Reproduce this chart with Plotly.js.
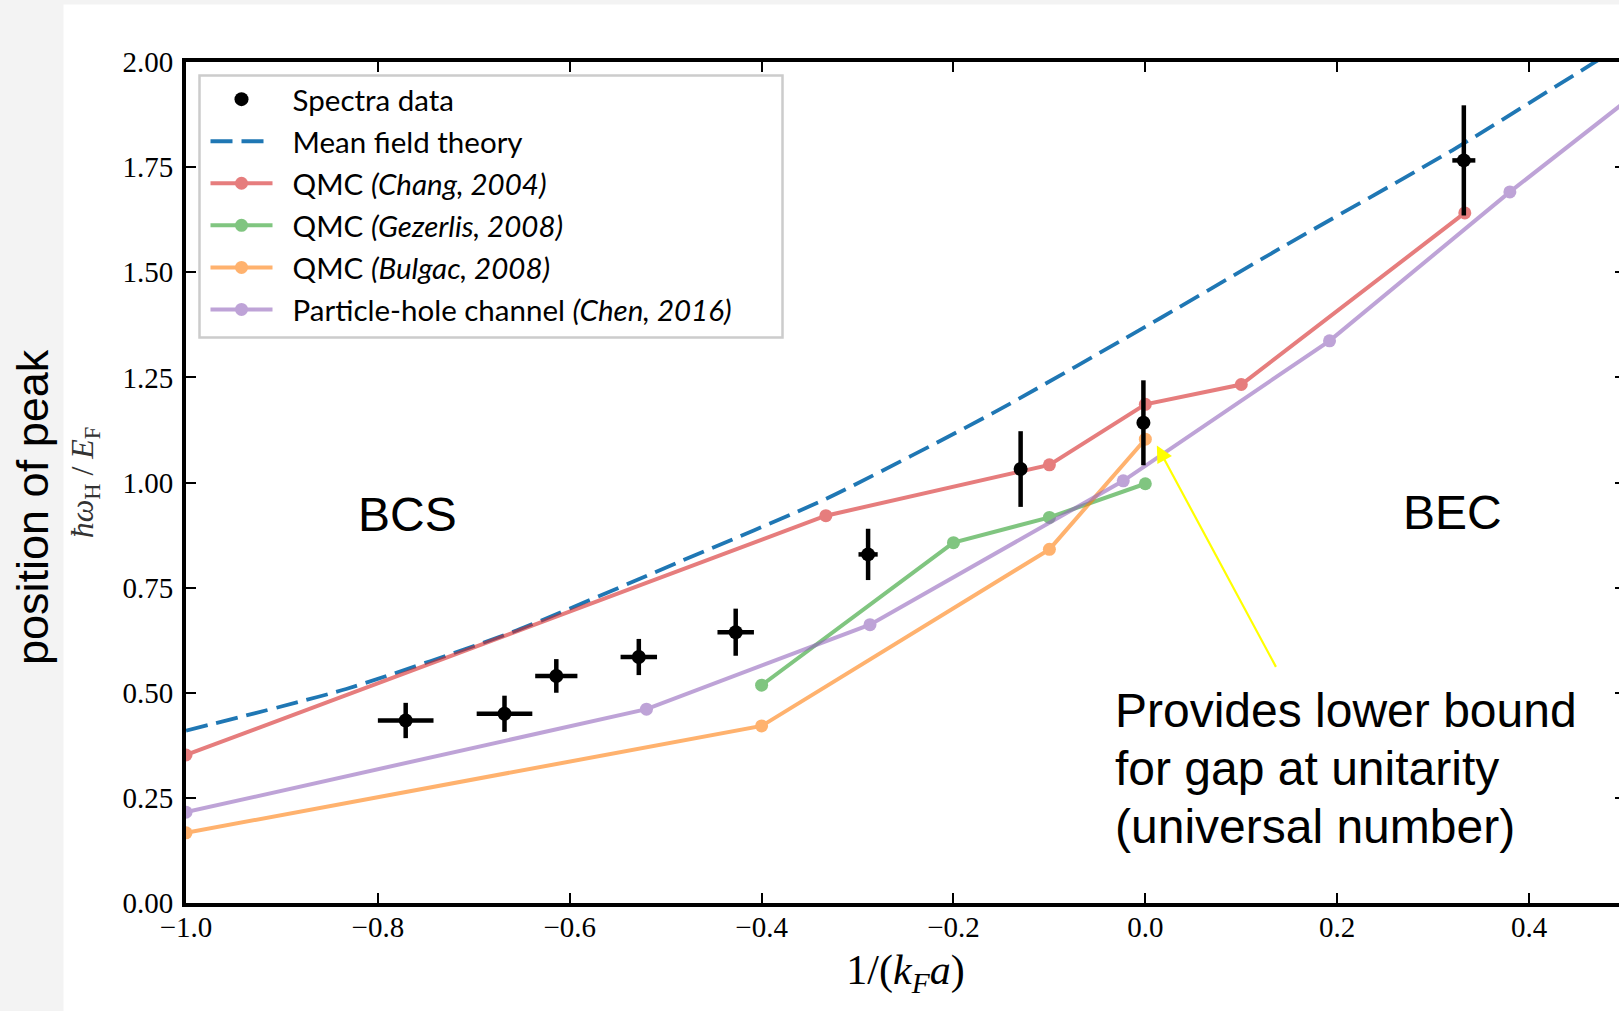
<!DOCTYPE html>
<html>
<head>
<meta charset="utf-8">
<script src="https://cdn.plot.ly/plotly-3.0.1.min.js"></script>
<style>
  html, body { margin: 0; padding: 0; background: #f3f3f3; }
  #wrap { width: 1619px; height: 1011px; overflow: hidden; position: relative; }
  #plot { width: 1640px; height: 1011px; }
</style>
</head>
<body>
<div id="wrap"><div id="plot"></div></div>
<script>
// ---------------- data ----------------
const spectraX    = [-0.771, -0.668, -0.614, -0.528, -0.427, -0.289, -0.130, -0.002, 0.332];
const spectraY    = [0.434, 0.450, 0.540, 0.585, 0.644, 0.829, 1.032, 1.142, 1.766];
const spectraXErr = [0.029, 0.029, 0.022, 0.019, 0.019, 0.010, 0.0, 0.0, 0.012];
const spectraYErr = [0.042, 0.043, 0.040, 0.043, 0.056, 0.061, 0.090, 0.101, 0.131];

const meanFieldX = [-1.0, -0.833, -0.659, -0.485, -0.332, -0.159, 0.015, 0.146, 0.320, 0.466, 0.5];
const meanFieldY = [0.410, 0.509, 0.645, 0.812, 0.962, 1.165, 1.390, 1.564, 1.790, 1.996, 2.044];

const changX = [-1.0, -0.333, -0.1, 0.0, 0.1, 0.333];
const changY = [0.352, 0.921, 1.042, 1.186, 1.233, 1.641];

const gezerlisX = [-0.4, -0.2, -0.1, 0.0];
const gezerlisY = [0.518, 0.857, 0.917, 0.997];

const bulgacX = [-1.0, -0.4, -0.1, 0.0];
const bulgacY = [0.167, 0.421, 0.841, 1.103];

const chenX = [-1.0, -0.52, -0.287, -0.023, 0.192, 0.380, 0.57];
const chenY = [0.216, 0.461, 0.662, 1.004, 1.337, 1.691, 2.03];

const xTickVals = [-1.0, -0.8, -0.6, -0.4, -0.2, 0.0, 0.2, 0.4];
const yTickVals = [0.0, 0.25, 0.5, 0.75, 1.0, 1.25, 1.5, 1.75, 2.0];

const seriesNames = [
  'Spectra data',
  'Mean field theory',
  'QMC <i>(Chang, 2004)</i>',
  'QMC <i>(Gezerlis, 2008)</i>',
  'QMC <i>(Bulgac, 2008)</i>',
  'Particle-hole channel <i>(Chen, 2016)</i>'
];

const noteLines = ['Provides lower bound', 'for gap at unitarity', '(universal number)'];

// ---------------- layout geometry ----------------
const W = 1640, H = 1011;
const M = { l: 186, r: 15, t: 62, b: 108 };
const PW = W - M.l - M.r, PH = H - M.t - M.b;
const px2x = px => (px - M.l) / PW;
const py2y = py => (H - M.b - py) / PH;

const serif = 'Liberation Serif, Times New Roman, serif';
const sans = 'Liberation Sans, Arial, sans-serif';
const legendFont = 'Lato, Open Sans, sans-serif';
const pad = '\u00a0\u00a0';   // small gap between legend swatch and label

function qmcTrace(x, y, name, color, rank) {
  return {
    x: x, y: y, name: pad + name, type: 'scatter', mode: 'lines+markers',
    line: { color: color, width: 4 },
    marker: { color: color, size: 13 },
    opacity: 0.6, legendrank: rank, legendgroup: 'g' + rank
  };
}

const traces = [
  {
    x: meanFieldX, y: meanFieldY, name: pad + seriesNames[1], type: 'scatter', mode: 'lines',
    line: { color: '#1f77b4', width: 3.8, dash: '22px,9px', shape: 'spline', smoothing: 0.6 },
    legendrank: 2, legendgroup: 'g2'
  },
  qmcTrace(changX, changY, seriesNames[2], '#d62728', 3),
  qmcTrace(gezerlisX, gezerlisY, seriesNames[3], '#2ca02c', 4),
  qmcTrace(bulgacX, bulgacY, seriesNames[4], '#ff7f0e', 5),
  qmcTrace(chenX, chenY, seriesNames[5], '#9467bd', 6),
  {
    x: spectraX, y: spectraY, name: pad + seriesNames[0], type: 'scatter', mode: 'markers',
    marker: { color: 'black', size: 14 },
    error_y: { type: 'data', array: spectraYErr, color: 'black', thickness: 4.5, width: 0 },
    error_x: { type: 'data', array: spectraXErr, color: 'black', thickness: 4.5, width: 0 },
    legendrank: 1, legendgroup: 'g1'
  }
];

const axisCommon = {
  showgrid: false, zeroline: false,
  showline: true, linecolor: 'black', linewidth: 4,
  ticks: 'inside', ticklen: 10, tickwidth: 2, tickcolor: 'black',
  mirror: 'ticks',
  tickfont: { family: serif, size: 29, color: 'black' }
};

const noteY = [710.5, 768, 826];

const layout = {
  width: W, height: H,
  margin: M,
  paper_bgcolor: 'white',
  plot_bgcolor: 'white',
  showlegend: true,
  xaxis: Object.assign({}, axisCommon, {
    range: [-1.0, 0.5],
    tickvals: xTickVals, tickformat: '.1f',
    ticklabelstandoff: -5,
    title: {
      text: '1/(<i>k</i><sub><i>F</i></sub><i>a</i>)',
      font: { family: serif, size: 42, color: 'black' },
      standoff: 14
    }
  }),
  yaxis: Object.assign({}, axisCommon, {
    range: [0, 2.0],
    tickvals: yTickVals, tickformat: '.2f',
    ticklabelstandoff: 3,
    title: {
      text: '<i>ħω</i><sub>H</sub> / <i>E</i><sub>F</sub>',
      font: { family: serif, size: 32, color: '#333333' },
      standoff: 20
    }
  }),
  legend: {
    x: px2x(205.5), y: py2y(73.5), xanchor: 'left', yanchor: 'top',
    bgcolor: 'rgba(0,0,0,0)', borderwidth: 0,
    font: { family: legendFont, size: 29.5, color: 'black' },
    tracegroupgap: 0.7, itemwidth: 62
  },
  shapes: [
    // light grey slide margins (left strip and top strip)
    { type: 'rect', xref: 'paper', yref: 'paper', layer: 'below',
      x0: px2x(0), x1: px2x(63.5), y0: py2y(H), y1: py2y(0),
      fillcolor: '#f3f3f3', line: { width: 0 } },
    { type: 'rect', xref: 'paper', yref: 'paper', layer: 'below',
      x0: px2x(0), x1: px2x(W), y0: py2y(4.5), y1: py2y(0),
      fillcolor: '#f3f3f3', line: { width: 0 } },
    // legend frame
    { type: 'rect', xref: 'paper', yref: 'paper', layer: 'above',
      x0: px2x(199.5), x1: px2x(782.5), y0: py2y(337.5), y1: py2y(75.5),
      fillcolor: 'rgba(255,255,255,0.85)', line: { color: '#cccccc', width: 2.5 } }
  ],
  annotations: [
    { xref: 'paper', yref: 'paper', x: px2x(32), y: py2y(507),
      text: 'position of peak', textangle: -90, showarrow: false,
      xanchor: 'center', yanchor: 'middle',
      font: { family: sans, size: 45, color: 'black' } },
    { xref: 'x', yref: 'y', x: -0.7696, y: 0.925, text: 'BCS', showarrow: false,
      xanchor: 'center', yanchor: 'middle',
      font: { family: sans, size: 48, color: 'black' } },
    { xref: 'x', yref: 'y', x: 0.3203, y: 0.9275, text: 'BEC', showarrow: false,
      xanchor: 'center', yanchor: 'middle',
      font: { family: sans, size: 48, color: 'black' } }
  ].concat(noteLines.map((t, i) => ({
      xref: 'x', yref: 'y', x: -0.034, y: py2y(noteY[i]) * 2.0,
      text: t, showarrow: false, xanchor: 'left', yanchor: 'middle', align: 'left',
      font: { family: sans, size: 48, color: 'black' }
  }))).concat([
    { xref: 'x', yref: 'y', x: 0.012, y: 1.088, axref: 'x', ayref: 'y',
      ax: 0.137, ay: 0.558, text: '', showarrow: true,
      arrowhead: 2, arrowsize: 1.5, arrowwidth: 2.2, arrowcolor: '#ffff00', standoff: 0 }
  ])
};

Plotly.newPlot('plot', traces, layout, { displayModeBar: false, responsive: false });
</script>
</body>
</html>
